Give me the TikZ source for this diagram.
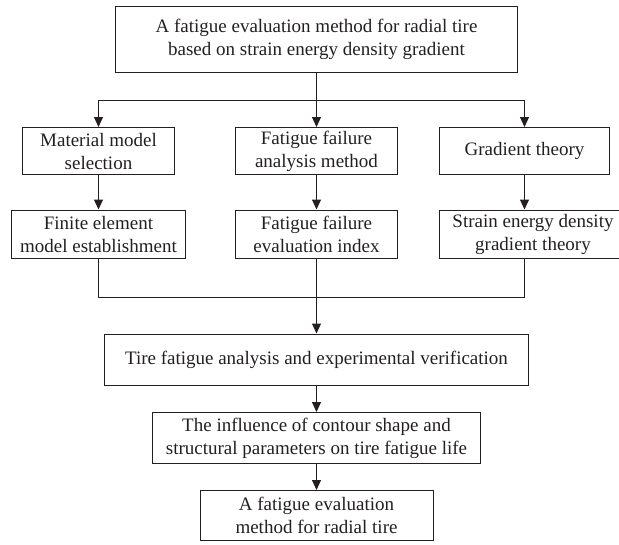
\documentclass[tikz,border=0pt]{standalone}
\usepackage{fontspec}
\setmainfont{Liberation Serif}
\usetikzlibrary{arrows.meta}
\definecolor{ink}{HTML}{231F20}
\tikzset{
  box/.style={draw=ink, text=ink, line width=1pt, align=center, inner sep=0pt,
    font=\fontsize{19}{23}\selectfont},
  conn/.style={draw=ink, line width=1pt},
  arr/.style={conn, -{Triangle[length=10pt,width=9pt]}}
}
\begin{document}
\begin{tikzpicture}[x=1pt,y=-1pt]
\useasboundingbox (0,0) rectangle (619,544);
\node[box, minimum width=402pt, minimum height=66pt] (top) at (316.5,39)
  {A fatigue evaluation method for radial tire\\based on strain energy density gradient};
\node[box, minimum width=152pt, minimum height=47pt] (r1a) at (98.5,151)
  {Material model\\selection};
\node[box, minimum width=162pt, minimum height=47pt] (r1b) at (316.5,151)
  {Fatigue failure\\analysis method};
\node[box, minimum width=170pt, minimum height=47pt] (r1c) at (524.5,151)
  {Gradient theory};
\node[box, minimum width=174pt, minimum height=48pt] (r2a) at (98.5,234)
  {Finite element\\model establishment};
\node[box, minimum width=162pt, minimum height=48pt] (r2b) at (316.5,234)
  {Fatigue failure\\evaluation index};
\node[box, minimum width=188pt, minimum height=48pt] (r2c) at (533,234)
  {Strain energy density\\gradient theory};
\node[box, minimum width=424pt, minimum height=51pt] (tire) at (316.5,359.5)
  {Tire fatigue analysis and experimental verification};
\node[box, minimum width=328pt, minimum height=51pt] (infl) at (316.5,438)
  {The influence of contour shape and\\structural parameters on tire fatigue life};
\node[box, minimum width=233pt, minimum height=50pt] (last) at (316.5,515.5)
  {A fatigue evaluation\\method for radial tire};
\coordinate (jt) at (316.5,100.5);
\coordinate (jb) at (316.5,297.5);
\draw[conn] (top.south) -- (jt);
\draw[arr] (jt) -| (r1a.north);
\draw[arr] (jt) -| (r1c.north);
\draw[arr] (jt) -- (r1b.north);
\draw[arr] (r1a.south) -- (r2a.north);
\draw[arr] (r1b.south) -- (r2b.north);
\draw[arr] (r1c.south) -- (r1c.south |- r2c.north);
\draw[conn] (r2a.south) |- (jb);
\draw[conn] (r2c.south -| r1c.south) |- (jb);
\draw[conn] (r2b.south) -- (jb);
\draw[arr] (jb) -- (tire.north);
\draw[arr] (tire.south) -- (infl.north);
\draw[arr] (infl.south) -- (last.north);
\end{tikzpicture}
\end{document}
